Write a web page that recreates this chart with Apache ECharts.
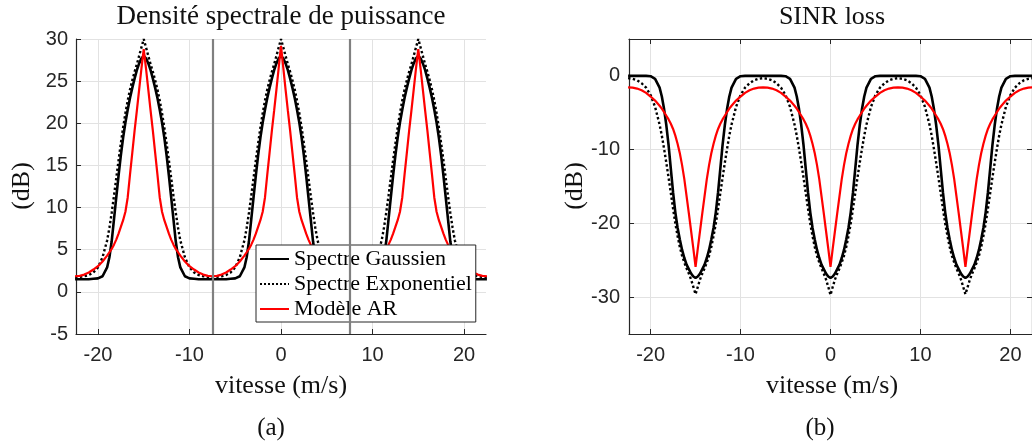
<!DOCTYPE html>
<html>
<head>
<meta charset="utf-8">
<script src="https://cdn.jsdelivr.net/npm/echarts@6/dist/echarts.min.js"></script>
<style>
  html, body { margin: 0; padding: 0; background: #ffffff; }
  #chart { width: 1032px; height: 444px; }
</style>
</head>
<body>
<div id="chart"></div>
<script>
// Vitesse radiale (m/s), échantillonnage commun à toutes les courbes
const vitesse = [
  -22.5, -22, -21.5, -21, -20.5, -20, -19.5, -19, -18.75, -18.5, -18.25, -18, -17.75, -17.5, -17.25, -17, -16.75, -16.5, -16.25, -16, -15.75, -15.5, -15.25, -15,
  -14.75, -14.5, -14.25, -14, -13.75, -13.5, -13.25, -13, -12.75, -12.5, -12.25, -12, -11.75, -11.5, -11.25, -11, -10.5, -10, -9.5, -9, -8.5, -8, -7.5,
  -7, -6.5, -6, -5.5, -5, -4.5, -4, -3.75, -3.5, -3.25, -3, -2.75, -2.5, -2.25, -2, -1.75, -1.5, -1.25, -1, -0.75, -0.5, -0.25, 0,
  0.25, 0.5, 0.75, 1, 1.25, 1.5, 1.75, 2, 2.25, 2.5, 2.75, 3, 3.25, 3.5, 3.75, 4, 4.5, 5, 5.5, 6, 6.5, 7, 7.5,
  8, 8.5, 9, 9.5, 10, 10.5, 11, 11.25, 11.5, 11.75, 12, 12.25, 12.5, 12.75, 13, 13.25, 13.5, 13.75, 14, 14.25, 14.5, 14.75, 15,
  15.25, 15.5, 15.75, 16, 16.25, 16.5, 16.75, 17, 17.25, 17.5, 17.75, 18, 18.25, 18.5, 18.75, 19, 19.5, 20, 20.5, 21, 21.5, 22, 22.5
];

// (a) Densité spectrale de puissance (dB)
const dspGaussien = [
  1.5, 1.5, 1.5, 1.5, 1.55, 1.6, 1.85, 2.9, 4.1, 6.0, 8.6, 11.2, 13.8, 16.2, 18.3, 20.1, 21.6, 23.0, 24.2, 25.3, 26.3, 27.1, 27.7, 28.0,
  27.7, 27.1, 26.3, 25.3, 24.2, 23.0, 21.6, 20.1, 18.3, 16.2, 13.8, 11.2, 8.6, 6.0, 4.1, 2.9, 1.85, 1.6, 1.55, 1.5, 1.5, 1.5, 1.5,
  1.5, 1.5, 1.5, 1.55, 1.6, 1.85, 2.9, 4.1, 6.0, 8.6, 11.2, 13.8, 16.2, 18.3, 20.1, 21.6, 23.0, 24.2, 25.3, 26.3, 27.1, 27.7, 28.0,
  27.7, 27.1, 26.3, 25.3, 24.2, 23.0, 21.6, 20.1, 18.3, 16.2, 13.8, 11.2, 8.6, 6.0, 4.1, 2.9, 1.85, 1.6, 1.55, 1.5, 1.5, 1.5, 1.5,
  1.5, 1.5, 1.5, 1.55, 1.6, 1.85, 2.9, 4.1, 6.0, 8.6, 11.2, 13.8, 16.2, 18.3, 20.1, 21.6, 23.0, 24.2, 25.3, 26.3, 27.1, 27.7, 28.0,
  27.7, 27.1, 26.3, 25.3, 24.2, 23.0, 21.6, 20.1, 18.3, 16.2, 13.8, 11.2, 8.6, 6.0, 4.1, 2.9, 1.85, 1.6, 1.55, 1.5, 1.5, 1.5, 1.5
];
const dspExponentiel = [
  1.75, 1.78, 1.85, 2.0, 2.3, 2.9, 4.1, 6.1, 7.6, 9.4, 11.4, 13.5, 15.6, 17.6, 19.5, 21.2, 22.7, 24.0, 25.1, 26.1, 27.0, 28.0, 29.0, 30.0,
  29.0, 28.0, 27.0, 26.1, 25.1, 24.0, 22.7, 21.2, 19.5, 17.6, 15.6, 13.5, 11.4, 9.4, 7.6, 6.1, 4.1, 2.9, 2.3, 2.0, 1.85, 1.78, 1.75,
  1.78, 1.85, 2.0, 2.3, 2.9, 4.1, 6.1, 7.6, 9.4, 11.4, 13.5, 15.6, 17.6, 19.5, 21.2, 22.7, 24.0, 25.1, 26.1, 27.0, 28.0, 29.0, 30.0,
  29.0, 28.0, 27.0, 26.1, 25.1, 24.0, 22.7, 21.2, 19.5, 17.6, 15.6, 13.5, 11.4, 9.4, 7.6, 6.1, 4.1, 2.9, 2.3, 2.0, 1.85, 1.78, 1.75,
  1.78, 1.85, 2.0, 2.3, 2.9, 4.1, 6.1, 7.6, 9.4, 11.4, 13.5, 15.6, 17.6, 19.5, 21.2, 22.7, 24.0, 25.1, 26.1, 27.0, 28.0, 29.0, 30.0,
  29.0, 28.0, 27.0, 26.1, 25.1, 24.0, 22.7, 21.2, 19.5, 17.6, 15.6, 13.5, 11.4, 9.4, 7.6, 6.1, 4.1, 2.9, 2.3, 2.0, 1.85, 1.78, 1.75
];
const dspAR = [
  1.85, 1.9, 2.05, 2.3, 2.65, 3.05, 3.6, 4.3, 4.7, 5.1, 5.6, 6.2, 6.9, 7.7, 8.5, 9.5, 11.2, 13.9, 16.5, 19.1, 21.5, 24.0, 26.5, 28.8,
  26.5, 24.0, 21.5, 19.1, 16.5, 13.9, 11.2, 9.5, 8.5, 7.7, 6.9, 6.2, 5.6, 5.1, 4.7, 4.3, 3.6, 3.05, 2.65, 2.3, 2.05, 1.9, 1.85,
  1.9, 2.05, 2.3, 2.65, 3.05, 3.6, 4.3, 4.7, 5.1, 5.6, 6.2, 6.9, 7.7, 8.5, 9.5, 11.2, 13.9, 16.5, 19.1, 21.5, 24.0, 26.6, 29.2,
  26.6, 24.0, 21.5, 19.1, 16.5, 13.9, 11.2, 9.5, 8.5, 7.7, 6.9, 6.2, 5.6, 5.1, 4.7, 4.3, 3.6, 3.05, 2.65, 2.3, 2.05, 1.9, 1.85,
  1.9, 2.05, 2.3, 2.65, 3.05, 3.6, 4.3, 4.7, 5.1, 5.6, 6.2, 6.9, 7.7, 8.5, 9.5, 11.2, 13.9, 16.5, 19.1, 21.5, 24.0, 26.5, 28.8,
  26.5, 24.0, 21.5, 19.1, 16.5, 13.9, 11.2, 9.5, 8.5, 7.7, 6.9, 6.2, 5.6, 5.1, 4.7, 4.3, 3.6, 3.05, 2.65, 2.3, 2.05, 1.9, 1.85
];

// (b) SINR loss (dB)
const sinrGaussien = [
  0, 0, 0, 0, 0, -0.05, -0.4, -1.6, -2.8, -4.5, -6.7, -9.4, -12.6, -15.8, -18.5, -20.6, -22.2, -23.6, -24.7, -25.6, -26.2, -26.8, -27.2, -27.4,
  -27.2, -26.8, -26.2, -25.6, -24.7, -23.6, -22.2, -20.6, -18.5, -15.8, -12.6, -9.4, -6.7, -4.5, -2.8, -1.6, -0.4, -0.05, 0, 0, 0, 0, 0,
  0, 0, 0, 0, -0.05, -0.4, -1.6, -2.8, -4.5, -6.7, -9.4, -12.6, -15.8, -18.5, -20.6, -22.2, -23.6, -24.7, -25.6, -26.2, -26.8, -27.2, -27.4,
  -27.2, -26.8, -26.2, -25.6, -24.7, -23.6, -22.2, -20.6, -18.5, -15.8, -12.6, -9.4, -6.7, -4.5, -2.8, -1.6, -0.4, -0.05, 0, 0, 0, 0, 0,
  0, 0, 0, 0, -0.05, -0.4, -1.6, -2.8, -4.5, -6.7, -9.4, -12.6, -15.8, -18.5, -20.6, -22.2, -23.6, -24.7, -25.6, -26.2, -26.8, -27.2, -27.4,
  -27.2, -26.8, -26.2, -25.6, -24.7, -23.6, -22.2, -20.6, -18.5, -15.8, -12.6, -9.4, -6.7, -4.5, -2.8, -1.6, -0.4, -0.05, 0, 0, 0, 0, 0
];
const sinrExponentiel = [
  -0.3, -0.4, -0.6, -1.0, -1.6, -2.6, -4.2, -6.6, -8.1, -9.9, -11.8, -13.8, -15.9, -18.0, -20.0, -21.7, -23.2, -24.4, -25.3, -26.1, -26.8, -27.6, -28.6, -29.6,
  -28.6, -27.6, -26.8, -26.1, -25.3, -24.4, -23.2, -21.7, -20.0, -18.0, -15.9, -13.8, -11.8, -9.9, -8.1, -6.6, -4.2, -2.6, -1.6, -1.0, -0.6, -0.4, -0.3,
  -0.4, -0.6, -1.0, -1.6, -2.6, -4.2, -6.6, -8.1, -9.9, -11.8, -13.8, -15.9, -18.0, -20.0, -21.7, -23.2, -24.4, -25.3, -26.1, -26.8, -27.6, -28.6, -29.7,
  -28.6, -27.6, -26.8, -26.1, -25.3, -24.4, -23.2, -21.7, -20.0, -18.0, -15.9, -13.8, -11.8, -9.9, -8.1, -6.6, -4.2, -2.6, -1.6, -1.0, -0.6, -0.4, -0.3,
  -0.4, -0.6, -1.0, -1.6, -2.6, -4.2, -6.6, -8.1, -9.9, -11.8, -13.8, -15.9, -18.0, -20.0, -21.7, -23.2, -24.4, -25.3, -26.1, -26.8, -27.6, -28.6, -29.6,
  -28.6, -27.6, -26.8, -26.1, -25.3, -24.4, -23.2, -21.7, -20.0, -18.0, -15.9, -13.8, -11.8, -9.9, -8.1, -6.6, -4.2, -2.6, -1.6, -1.0, -0.6, -0.4, -0.3
];
const sinrAR = [
  -1.55, -1.6, -1.72, -1.95, -2.3, -2.8, -3.35, -4.05, -4.45, -4.9, -5.4, -5.9, -6.5, -7.2, -8.1, -9.2, -10.5, -12.1, -14.0, -16.3, -18.6, -21.0, -23.4, -25.9,
  -23.4, -21.0, -18.6, -16.3, -14.0, -12.1, -10.5, -9.2, -8.1, -7.2, -6.5, -5.9, -5.4, -4.9, -4.45, -4.05, -3.35, -2.8, -2.3, -1.95, -1.72, -1.6, -1.55,
  -1.6, -1.72, -1.95, -2.3, -2.8, -3.35, -4.05, -4.45, -4.9, -5.4, -5.9, -6.5, -7.2, -8.1, -9.2, -10.5, -12.1, -14.0, -16.3, -18.6, -21.0, -23.4, -25.9,
  -23.4, -21.0, -18.6, -16.3, -14.0, -12.1, -10.5, -9.2, -8.1, -7.2, -6.5, -5.9, -5.4, -4.9, -4.45, -4.05, -3.35, -2.8, -2.3, -1.95, -1.72, -1.6, -1.55,
  -1.6, -1.72, -1.95, -2.3, -2.8, -3.35, -4.05, -4.45, -4.9, -5.4, -5.9, -6.5, -7.2, -8.1, -9.2, -10.5, -12.1, -14.0, -16.3, -18.6, -21.0, -23.4, -25.9,
  -23.4, -21.0, -18.6, -16.3, -14.0, -12.1, -10.5, -9.2, -8.1, -7.2, -6.5, -5.9, -5.4, -4.9, -4.45, -4.05, -3.35, -2.8, -2.3, -1.95, -1.72, -1.6, -1.55
];

// Limites de la zone non ambiguë (traits verticaux gris)
const bornesAmbiguite = [-7.5, 7.5];

// Graduations
const ticksVitesse = [-20, -10, 0, 10, 20];
const ticksSinr = [-30, -20, -10, 0];
const nomsSeries = ['Spectre Gaussien', 'Spectre Exponentiel', 'Modèle AR'];

const SERIF = '"Liberation Serif", "Times New Roman", serif';
const SANS = '"Liberation Sans", Arial, Helvetica, sans-serif';
const AXIS_COLOR = '#262626';
const GRID_COLOR = '#e2e2e2';

const zip = (ys) => vitesse.map((v, i) => [v, ys[i]]);

const styles = [
  { color: '#000000', width: 2.6, type: 'solid' },
  { color: '#000000', width: 2.4, type: 'dotted' },
  { color: '#ff0000', width: 2.2, type: 'solid' }
];

function lineSeries(name, ys, style, gridIdx) {
  return {
    name: name,
    type: 'line',
    xAxisIndex: gridIdx === 0 ? 0 : 1,
    yAxisIndex: gridIdx === 0 ? 0 : 1,
    data: zip(ys),
    symbol: 'none',
    showSymbol: false,
    smooth: false,
    clip: true,
    silent: true,
    lineStyle: { color: style.color, width: style.width, type: style.type },
    itemStyle: { color: style.color }
  };
}

const commonX = {
  type: 'value',
  min: -22.4,
  max: 22.4,
  axisLine: { show: true, onZero: false, lineStyle: { color: AXIS_COLOR, width: 1.2 } },
  axisTick: { show: true, inside: true, length: 5, customValues: ticksVitesse, lineStyle: { color: AXIS_COLOR, width: 1 } },
  axisLabel: { customValues: ticksVitesse, margin: 11, color: AXIS_COLOR, fontSize: 20, fontFamily: SANS },
  splitLine: { show: true, lineStyle: { color: GRID_COLOR, width: 1 } }
};

const option = {
  animation: false,
  backgroundColor: '#ffffff',
  grid: [
    { left: 76, top: 39, width: 410, height: 295, containLabel: false },
    { left: 629, top: 39, width: 406, height: 295, containLabel: false }
  ],
  xAxis: [
    Object.assign({}, commonX, { gridIndex: 0 }),
    Object.assign({}, commonX, { gridIndex: 1 }),
    {
      gridIndex: 1, type: 'value', position: 'top', min: -22.4, max: 22.4,
      axisLine: { show: true, onZero: false, lineStyle: { color: AXIS_COLOR, width: 1.2 } },
      axisTick: { show: true, inside: true, length: 5, customValues: ticksVitesse, lineStyle: { color: AXIS_COLOR } },
      axisLabel: { show: false },
      splitLine: { show: false }
    }
  ],
  yAxis: [
    {
      gridIndex: 0, type: 'value', min: -5, max: 30, interval: 5,
      axisLine: { show: true, onZero: false, lineStyle: { color: AXIS_COLOR, width: 1.2 } },
      axisTick: { show: true, inside: true, length: 5, lineStyle: { color: AXIS_COLOR } },
      axisLabel: { margin: 8, color: AXIS_COLOR, fontSize: 20, fontFamily: SANS },
      splitLine: { show: true, lineStyle: { color: GRID_COLOR, width: 1 } }
    },
    {
      gridIndex: 1, type: 'value', min: -35, max: 5,
      axisLine: { show: true, onZero: false, lineStyle: { color: AXIS_COLOR, width: 1.2 } },
      axisTick: { show: true, inside: true, length: 5, customValues: ticksSinr, lineStyle: { color: AXIS_COLOR } },
      axisLabel: { customValues: ticksSinr, margin: 9, color: AXIS_COLOR, fontSize: 20, fontFamily: SANS },
      splitLine: { show: true, lineStyle: { color: GRID_COLOR, width: 1 } }
    },
    {
      gridIndex: 1, type: 'value', position: 'right', min: -35, max: 5,
      axisLine: { show: true, onZero: false, lineStyle: { color: AXIS_COLOR, width: 1.2 } },
      axisTick: { show: true, inside: true, length: 5, customValues: ticksSinr, lineStyle: { color: AXIS_COLOR } },
      axisLabel: { show: false },
      splitLine: { show: false }
    }
  ],
  legend: {
    data: nomsSeries,
    orient: 'vertical',
    left: 256,
    top: 245,
    itemWidth: 29,
    itemHeight: 12,
    itemGap: 3,
    padding: [3, 4, 2, 3],
    backgroundColor: '#ffffff',
    borderColor: AXIS_COLOR,
    borderWidth: 1,
    borderRadius: 0,
    selectedMode: false,
    // only the line sample, no marker in its middle
    itemStyle: { opacity: 0, borderWidth: 0 },
    textStyle: { fontFamily: SERIF, fontSize: 22, color: '#000000' }
  },
  graphic: [
    { type: 'text', x: 281, y: 17, silent: true, style: { text: 'Densité spectrale de puissance', fontFamily: SERIF, fontSize: 27, fill: '#111111', textAlign: 'center', textVerticalAlign: 'middle' } },
    { type: 'text', x: 832, y: 17, silent: true, style: { text: 'SINR loss', fontFamily: SERIF, fontSize: 26, fill: '#111111', textAlign: 'center', textVerticalAlign: 'middle' } },
    { type: 'text', x: 281, y: 386, silent: true, style: { text: 'vitesse (m/s)', fontFamily: SERIF, fontSize: 26, fill: '#111111', textAlign: 'center', textVerticalAlign: 'middle' } },
    { type: 'text', x: 832, y: 386, silent: true, style: { text: 'vitesse (m/s)', fontFamily: SERIF, fontSize: 26, fill: '#111111', textAlign: 'center', textVerticalAlign: 'middle' } },
    { type: 'text', x: 22, y: 186, rotation: Math.PI / 2, silent: true, style: { text: '(dB)', fontFamily: SERIF, fontSize: 26, fill: '#111111', textAlign: 'center', textVerticalAlign: 'middle' } },
    { type: 'text', x: 575, y: 186, rotation: Math.PI / 2, silent: true, style: { text: '(dB)', fontFamily: SERIF, fontSize: 26, fill: '#111111', textAlign: 'center', textVerticalAlign: 'middle' } },
    { type: 'text', x: 271, y: 428, silent: true, style: { text: '(a)', fontFamily: SERIF, fontSize: 25, fill: '#111111', textAlign: 'center', textVerticalAlign: 'middle' } },
    { type: 'text', x: 820, y: 428, silent: true, style: { text: '(b)', fontFamily: SERIF, fontSize: 25, fill: '#111111', textAlign: 'center', textVerticalAlign: 'middle' } }
  ],
  series: [
    Object.assign(lineSeries(nomsSeries[0], dspGaussien, styles[0], 0), {
      markLine: {
        silent: true,
        symbol: ['none', 'none'],
        label: { show: false },
        lineStyle: { color: '#808080', width: 2.2, type: 'solid' },
        emphasis: { disabled: true },
        data: bornesAmbiguite.map(v => ({ xAxis: v }))
      }
    }),
    lineSeries(nomsSeries[1], dspExponentiel, styles[1], 0),
    lineSeries(nomsSeries[2], dspAR, styles[2], 0),
    lineSeries(nomsSeries[0], sinrGaussien, styles[0], 1),
    lineSeries(nomsSeries[1], sinrExponentiel, styles[1], 1),
    lineSeries(nomsSeries[2], sinrAR, styles[2], 1)
  ]
};

const chart = echarts.init(document.getElementById('chart'), null, { renderer: 'canvas' });
chart.setOption(option);
</script>
</body>
</html>
